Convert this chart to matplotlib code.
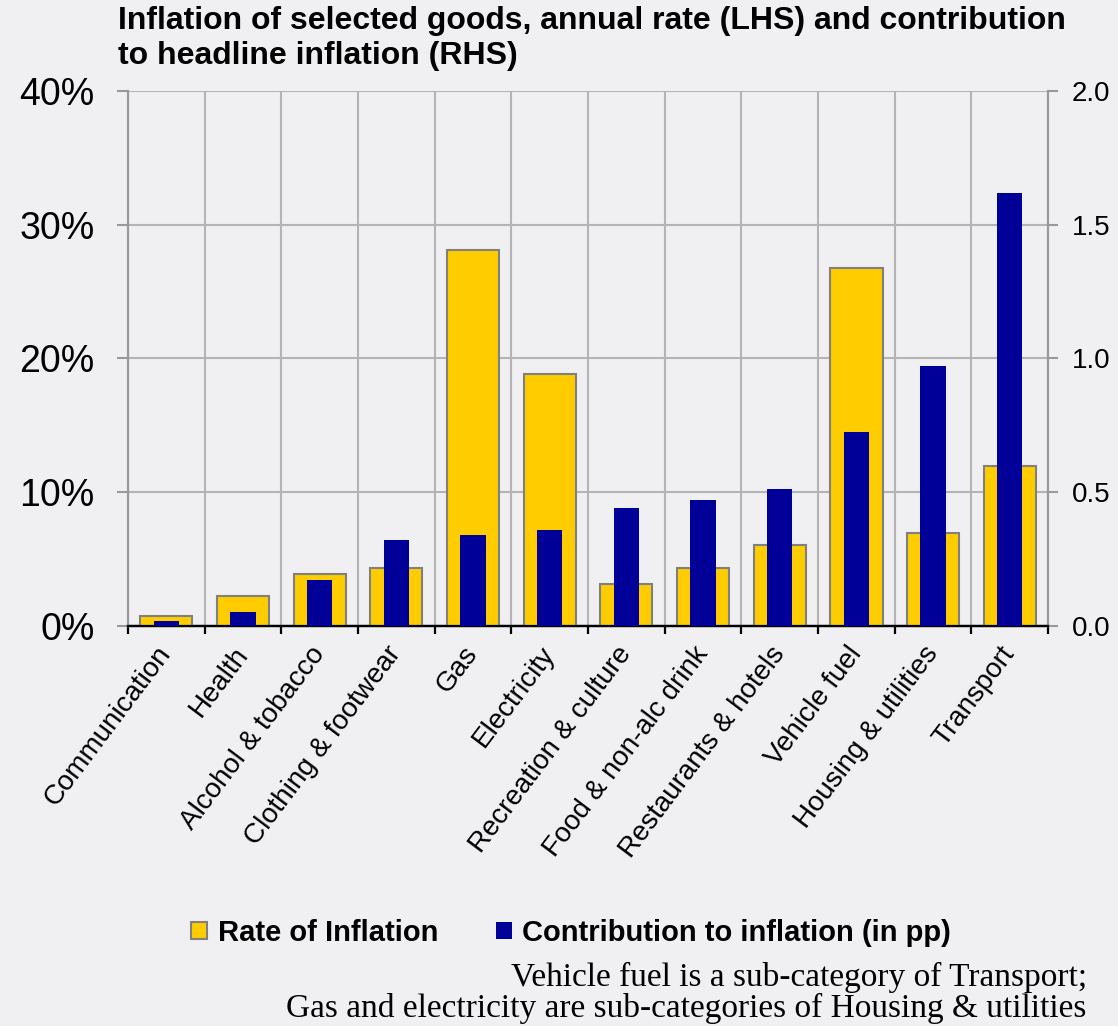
import numpy as np
import matplotlib.pyplot as plt
from matplotlib.patches import Patch

categories = ['Communication', 'Health', 'Alcohol & tobacco', 'Clothing & footwear',
              'Gas', 'Electricity', 'Recreation & culture', 'Food & non-alc drink',
              'Restaurants & hotels', 'Vehicle fuel', 'Housing & utilities', 'Transport']
rate = [0.75, 2.2, 3.9, 4.3, 28.1, 18.8, 3.1, 4.3, 6.05, 26.8, 6.95, 11.95]
contrib = [0.02, 0.05, 0.17, 0.32, 0.34, 0.36, 0.44, 0.47, 0.51, 0.725, 0.97, 1.62]

bg = '#f0f0f2'
yellow = '#ffcc00'
navy = '#000099'
grey = '#b4b4b4'

plt.rcParams['font.family'] = ['Liberation Sans', 'DejaVu Sans']

fig = plt.figure(figsize=(11.18, 10.26), dpi=100, facecolor=bg)
ax = fig.add_axes([0.1145, 0.39, 0.823, 0.5213])
ax.set_facecolor(bg)
ax2 = ax.twinx()

x = np.arange(len(categories))
ax.bar(x, rate, width=0.68, color=yellow, edgecolor='#808080', linewidth=1.5, zorder=3)
ax2.bar(x, contrib, width=0.33, color=navy, zorder=3)

ax.set_xlim(-0.5, len(categories) - 0.5)
ax.set_ylim(0, 40)
ax2.set_ylim(0, 2.0)

ax.set_yticks([0, 10, 20, 30, 40])
ax.set_yticklabels(['0%', '10%', '20%', '30%', '40%'], fontsize=27)
ax2.set_yticks([0, 0.5, 1.0, 1.5, 2.0])
ax2.set_yticklabels(['0.0', '0.5', '1.0', '1.5', '2.0'], fontsize=20)

# boundaries carry the ticks and vertical grid, centres carry the labels
ax.set_xticks(np.arange(-0.5, len(categories)))
ax.set_xticklabels([])
ax.set_xticks(x, minor=True)
ax.set_xticklabels(categories, minor=True, rotation=53, ha='right', va='center',
                   rotation_mode='anchor', fontsize=20)
ax.tick_params(axis='x', which='minor', length=0, pad=17)
ax.tick_params(axis='x', which='major', length=6, width=1.6, color='black')
ax.tick_params(axis='y', length=8, width=1.5, color='#999999', pad=16)
ax2.tick_params(axis='y', length=7, width=1.5, color='#999999', pad=10)

ax.grid(True, which='major', color=grey, linewidth=1.5, zorder=0)
ax.set_axisbelow(True)

for a in (ax, ax2):
    a.spines['top'].set_visible(False)
    a.spines['left'].set_color('#999999')
    a.spines['right'].set_color('#999999')
    a.spines['left'].set_linewidth(1.5)
    a.spines['right'].set_linewidth(1.5)
    a.spines['bottom'].set_color('black')
    a.spines['bottom'].set_linewidth(1.6)

fig.text(0.1055, 0.994, 'Inflation of selected goods, annual rate (LHS) and contribution\nto headline inflation (RHS)',
         fontsize=23, fontweight='bold', ha='left', va='top', linespacing=1.2)

handles = [Patch(facecolor=yellow, edgecolor='#808080', linewidth=1.5, label='Rate of Inflation'),
           Patch(facecolor=navy, label='Contribution to inflation (in pp)')]
fig.legend(handles=handles, loc='center', bbox_to_anchor=(0.511, 0.091), ncol=2, frameon=False,
           prop={'size': 21, 'weight': 'bold'}, handlelength=0.55, handleheight=0.55,
           handletextpad=0.35, columnspacing=2.0)

fig.text(0.972, 0.002, 'Vehicle fuel is a sub-category of Transport;\nGas and electricity are sub-categories of Housing & utilities',
         fontsize=24, family='Liberation Serif', ha='right', va='bottom', multialignment='right',
         linespacing=1.0)

fig.savefig('out.png', dpi=100, facecolor=bg)
